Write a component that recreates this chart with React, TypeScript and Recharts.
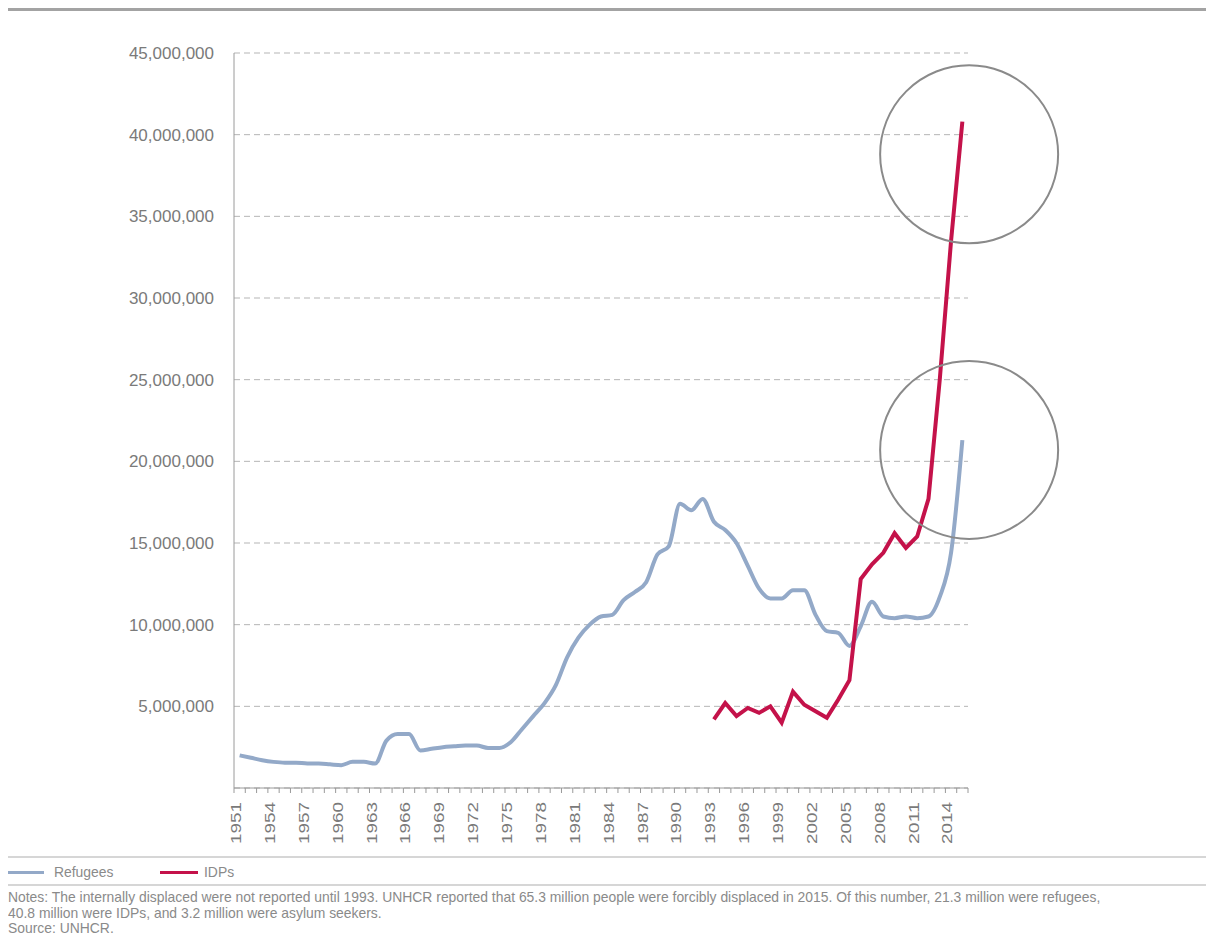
import React from "react";
import {
  LineChart,
  Line,
  XAxis,
  YAxis,
  CartesianGrid,
  ReferenceDot,
} from "recharts";

// years 1951..2015
const years: number[] = [
  1951, 1952, 1953, 1954, 1955, 1956, 1957, 1958, 1959, 1960, 1961, 1962, 1963,
  1964, 1965, 1966, 1967, 1968, 1969, 1970, 1971, 1972, 1973, 1974, 1975, 1976,
  1977, 1978, 1979, 1980, 1981, 1982, 1983, 1984, 1985, 1986, 1987, 1988, 1989,
  1990, 1991, 1992, 1993, 1994, 1995, 1996, 1997, 1998, 1999, 2000, 2001, 2002,
  2003, 2004, 2005, 2006, 2007, 2008, 2009, 2010, 2011, 2012, 2013, 2014, 2015,
];

// refugees, millions
const refugees: number[] = [
  2.0, 1.85, 1.7, 1.6, 1.55, 1.55, 1.5, 1.5, 1.45, 1.4, 1.6, 1.6, 1.5,
  2.9, 3.3, 3.3, 2.3, 2.4, 2.5, 2.55, 2.6, 2.6, 2.45, 2.45, 2.8, 3.6,
  4.4, 5.2, 6.3, 8.0, 9.2, 10.0, 10.5, 10.6, 11.5, 12.0, 12.6, 14.3, 14.8,
  17.4, 17.0, 17.7, 16.3, 15.8, 15.0, 13.6, 12.2, 11.6, 11.6, 12.1, 12.1, 10.6,
  9.6, 9.5, 8.7, 9.9, 11.4, 10.5, 10.4, 10.5, 10.4, 10.5, 11.7, 14.4, 21.3,
];

// IDPs, millions (reported from 1993)
const idpYears: number[] = [
  1993, 1994, 1995, 1996, 1997, 1998, 1999, 2000, 2001, 2002, 2003, 2004,
  2005, 2006, 2007, 2008, 2009, 2010, 2011, 2012, 2013, 2014, 2015,
];
const idps: number[] = [
  4.2, 5.2, 4.4, 4.9, 4.6, 5.0, 4.0, 5.9, 5.1, 4.7, 4.3, 5.4,
  6.6, 12.8, 13.7, 14.4, 15.6, 14.7, 15.4, 17.7, 25.0, 33.5, 40.8,
];

const yTicks = [0, 5e6, 10e6, 15e6, 20e6, 25e6, 30e6, 35e6, 40e6, 45e6];

const data = years.map((year, i) => {
  const k = idpYears.indexOf(year);
  return {
    year,
    refugees: refugees[i] * 1e6,
    idps: k >= 0 ? idps[k] * 1e6 : null,
  };
});

// tick marks sit between the years, like the original category axis
const xTicks = [...years.map((y) => y - 0.5), 2015.5];

const grey = "#7a7a7a";
const blue = "#93a9c8";
const red = "#c4124a";

const YearTick = (props: any) => {
  const { x, y, payload } = props;
  const year = payload.value + 0.5;
  if ((year - 1951) % 3 !== 0 || year > 2014) return null;
  return (
    <text
      x={x + 7}
      y={y + 7}
      transform={`rotate(-90, ${x + 7}, ${y + 7})`}
      textAnchor="end"
      fontSize={14}
      fill={grey}
      textLength={42}
      lengthAdjust="spacingAndGlyphs"
      fontFamily="'Liberation Sans', sans-serif"
    >
      {year}
    </text>
  );
};

const fmt = (v: number) => (v === 0 ? "" : v.toLocaleString("en-US"));

export default function App() {
  const small = {
    fontFamily: "'Liberation Sans', sans-serif",
    fontSize: 13.9,
    color: "#8a8a8a",
  };
  return (
    <div style={{ position: "relative", width: 1206, height: 935 }}>
      <div
        style={{
          position: "absolute",
          left: 0,
          top: 0,
          width: 1206,
          height: 3,
          background: "#a3a3a3",
        }}
      />
      <div style={{ position: "absolute", left: 0, top: 0 }}>
        <LineChart
          width={1120}
          height={840}
          data={data}
          margin={{ top: 45, right: 160, left: 0, bottom: 0 }}
        >
          <CartesianGrid
            vertical={false}
            stroke="#b5b5b5"
            strokeDasharray="6 4"
          />
          <XAxis
            dataKey="year"
            type="number"
            domain={[1950.5, 2015.5]}
            ticks={xTicks}
            interval={0}
            height={60}
            stroke="#9a9a9a"
            tickSize={5}
            tick={<YearTick />}
          />
          <YAxis
            width={226}
            domain={[0, 45e6]}
            ticks={yTicks}
            tickFormatter={fmt}
            tickLine={false}
            stroke="#9a9a9a"
            tickMargin={14}
            tick={{
              fill: grey,
              fontSize: 17,
              fontFamily: "'Liberation Sans', sans-serif",
            }}
          />
          <Line
            type="monotone"
            dataKey="refugees"
            stroke={blue}
            strokeWidth={4}
            dot={false}
            isAnimationActive={false}
          />
          <Line
            type="linear"
            dataKey="idps"
            stroke={red}
            strokeWidth={4}
            dot={false}
            isAnimationActive={false}
          />
          <ReferenceDot
            x={2015.6}
            y={38.8e6}
            r={89}
            fill="none"
            stroke="#8a8a8a"
            strokeWidth={2}
            ifOverflow="visible"
          />
          <ReferenceDot
            x={2015.6}
            y={20.7e6}
            r={89}
            fill="none"
            stroke="#8a8a8a"
            strokeWidth={2}
            ifOverflow="visible"
          />
        </LineChart>
      </div>
      <div
        style={{
          position: "absolute",
          left: 0,
          top: 848,
          width: 1206,
          height: 2,
          background: "#d6d6d6",
        }}
      />
      <div
        style={{
          position: "absolute",
          left: 0,
          top: 855,
          height: 18,
          display: "flex",
          alignItems: "center",
          ...small,
        }}
      >
        <span
          style={{
            display: "inline-block",
            width: 36,
            height: 3,
            background: blue,
            marginRight: 10,
          }}
        />
        <span style={{ width: 106 }}>Refugees</span>
        <span
          style={{
            display: "inline-block",
            width: 38,
            height: 3,
            background: red,
            marginRight: 6,
          }}
        />
        <span>IDPs</span>
      </div>
      <div
        style={{
          position: "absolute",
          left: 0,
          top: 876,
          width: 1206,
          height: 2,
          background: "#d6d6d6",
        }}
      />
      <div
        style={{
          position: "absolute",
          left: 0,
          top: 882,
          width: 1190,
          lineHeight: "15.5px",
          ...small,
        }}
      >
        <div>
          Notes: The internally displaced were not reported until 1993. UNHCR
          reported that 65.3 million people were forcibly displaced in 2015. Of
          this number, 21.3 million were refugees,
        </div>
        <div>40.8 million were IDPs, and 3.2 million were asylum seekers.</div>
        <div>Source: UNHCR.</div>
      </div>
    </div>
  );
}
